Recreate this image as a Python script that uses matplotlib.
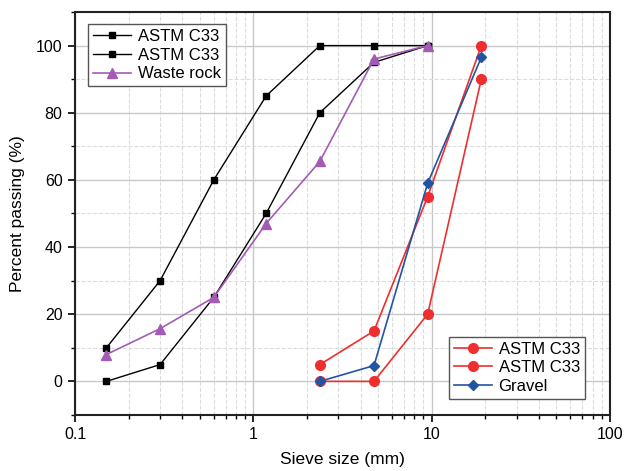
import matplotlib
matplotlib.use('Agg')
import matplotlib.pyplot as plt
from matplotlib.ticker import MultipleLocator, LogLocator, NullFormatter, FuncFormatter

plt.rcParams['font.family'] = ['Liberation Sans', 'DejaVu Sans']

# fine aggregate sieves (mm)
sieve_fine = [0.15, 0.3, 0.6, 1.18, 2.36, 4.75, 9.5]
astm_fine_upper = [10, 30, 60, 85, 100, 100, 100]
astm_fine_lower = [0, 5, 25, 50, 80, 95, 100]
waste_rock = [8, 15.7, 25, 47, 65.5, 96, 100]

# coarse aggregate sieves (mm)
sieve_coarse = [2.36, 4.75, 9.5, 19]
astm_coarse_upper = [5, 15, 55, 100]
astm_coarse_lower = [0, 0, 20, 90]
gravel = [0, 4.7, 59, 96.5]

red = '#ee2f2f'
blue = '#2353a3'
purple = '#a25cb5'

fig = plt.figure(figsize=(6.38, 4.71), dpi=100)
ax = fig.add_axes([0.1176, 0.119, 0.8384, 0.8555])

l1, = ax.plot(sieve_fine, astm_fine_upper, '-s', color='black', lw=1, ms=5, label='ASTM C33')
l2, = ax.plot(sieve_fine, astm_fine_lower, '-s', color='black', lw=1, ms=5, label='ASTM C33')
l3, = ax.plot(sieve_fine, waste_rock, '-^', color=purple, lw=1.2, ms=7, label='Waste rock')
l4, = ax.plot(sieve_coarse, astm_coarse_upper, '-o', color=red, lw=1.2, ms=7, label='ASTM C33')
l5, = ax.plot(sieve_coarse, astm_coarse_lower, '-o', color=red, lw=1.2, ms=7, label='ASTM C33')
l6, = ax.plot(sieve_coarse, gravel, '-D', color=blue, lw=1.2, ms=5, label='Gravel')

ax.set_xscale('log')
ax.set_xlim(0.1, 100)
ax.set_ylim(-10, 110)
ax.yaxis.set_major_locator(MultipleLocator(20))
ax.yaxis.set_minor_locator(MultipleLocator(10))
ax.xaxis.set_major_locator(LogLocator(base=10))
ax.xaxis.set_minor_locator(LogLocator(base=10, subs=range(2, 10)))
ax.xaxis.set_minor_formatter(NullFormatter())
ax.xaxis.set_major_formatter(FuncFormatter(lambda v, p: '%g' % v))

ax.grid(which='major', color='#c8c8c8', lw=1, ls='-')
ax.grid(which='minor', color='#dcdcdc', lw=0.8, ls='--')
ax.set_axisbelow(True)

ax.tick_params(which='major', direction='out', length=5, width=1.2, labelsize=11.5, pad=4)
ax.tick_params(which='minor', direction='out', length=3, width=1)
for s in ax.spines.values():
    s.set_linewidth(1.5)
    s.set_color('#222222')

ax.set_xlabel('Sieve size (mm)', fontsize=12.5, labelpad=7)
ax.set_ylabel('Percent passing (%)', fontsize=12.5, labelpad=8)

leg_style = dict(fontsize=12, fancybox=False, edgecolor='#555555', framealpha=1,
                 handlelength=2.3, borderpad=0.3, labelspacing=0.22, handletextpad=0.4,
                 borderaxespad=0)
leg1 = ax.legend(handles=[l1, l2, l3], loc='upper left', bbox_to_anchor=(0.024, 0.97), **leg_style)
leg1.get_frame().set_linewidth(1)
ax.add_artist(leg1)
leg2 = ax.legend(handles=[l4, l5, l6], loc='lower right', bbox_to_anchor=(0.953, 0.04), **leg_style)
leg2.get_frame().set_linewidth(1)

fig.savefig('out.png', dpi=100)
